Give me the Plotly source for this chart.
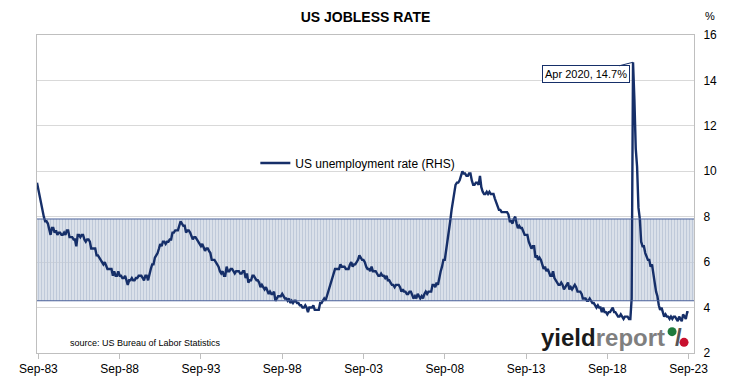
import pandas as pd
import plotly.graph_objects as go

# ---- data -----------------------------------------------------------------
first_month = "1983-08-01"
# US unemployment rate, monthly, % (Aug 1983 - Sep 2023)
unemployment_rate = [
    9.5, 9.2, 8.8, 8.5, 8.3,                                        # 1983 Aug-Dec
    8.0, 7.8, 7.8, 7.7, 7.4, 7.2, 7.5, 7.5, 7.3, 7.4, 7.2, 7.3,     # 1984
    7.3, 7.2, 7.2, 7.3, 7.2, 7.4, 7.4, 7.1, 7.1, 7.1, 7.0, 7.0,     # 1985
    6.7, 7.2, 7.2, 7.1, 7.2, 7.2, 7.0, 6.9, 7.0, 7.0, 6.9, 6.6,     # 1986
    6.6, 6.6, 6.6, 6.3, 6.3, 6.2, 6.1, 6.0, 5.9, 6.0, 5.8, 5.7,     # 1987
    5.7, 5.7, 5.7, 5.4, 5.6, 5.4, 5.4, 5.6, 5.4, 5.4, 5.3, 5.3,     # 1988
    5.4, 5.2, 5.0, 5.2, 5.2, 5.3, 5.2, 5.2, 5.3, 5.3, 5.4, 5.4,     # 1989
    5.4, 5.3, 5.2, 5.4, 5.4, 5.2, 5.5, 5.7, 5.9, 5.9, 6.2, 6.3,     # 1990
    6.4, 6.6, 6.8, 6.7, 6.9, 6.9, 6.8, 6.9, 6.9, 7.0, 7.0, 7.3,     # 1991
    7.3, 7.4, 7.4, 7.4, 7.6, 7.8, 7.7, 7.6, 7.6, 7.3, 7.4, 7.4,     # 1992
    7.3, 7.1, 7.0, 7.1, 7.1, 7.0, 6.9, 6.8, 6.7, 6.8, 6.6, 6.5,     # 1993
    6.6, 6.6, 6.5, 6.4, 6.1, 6.1, 6.1, 6.0, 5.9, 5.8, 5.6, 5.5,     # 1994
    5.6, 5.4, 5.4, 5.8, 5.6, 5.6, 5.7, 5.7, 5.6, 5.5, 5.6, 5.6,     # 1995
    5.6, 5.5, 5.5, 5.6, 5.6, 5.3, 5.5, 5.1, 5.2, 5.2, 5.4, 5.4,     # 1996
    5.3, 5.2, 5.2, 5.1, 4.9, 5.0, 4.9, 4.8, 4.9, 4.7, 4.6, 4.7,     # 1997
    4.6, 4.6, 4.7, 4.3, 4.4, 4.5, 4.5, 4.5, 4.6, 4.5, 4.4, 4.4,     # 1998
    4.3, 4.4, 4.2, 4.3, 4.2, 4.3, 4.3, 4.2, 4.2, 4.1, 4.1, 4.0,     # 1999
    4.0, 4.1, 4.0, 3.8, 4.0, 4.0, 4.0, 4.1, 3.9, 3.9, 3.9, 3.9,     # 2000
    4.2, 4.2, 4.3, 4.4, 4.3, 4.5, 4.6, 4.9, 5.0, 5.3, 5.5, 5.7,     # 2001
    5.7, 5.7, 5.7, 5.9, 5.8, 5.8, 5.8, 5.7, 5.7, 5.7, 5.9, 6.0,     # 2002
    5.8, 5.9, 5.9, 6.0, 6.1, 6.3, 6.2, 6.1, 6.1, 6.0, 5.8, 5.7,     # 2003
    5.7, 5.6, 5.8, 5.6, 5.6, 5.6, 5.5, 5.4, 5.4, 5.5, 5.4, 5.4,     # 2004
    5.3, 5.4, 5.2, 5.2, 5.1, 5.0, 5.0, 4.9, 5.0, 5.0, 5.0, 4.9,     # 2005
    4.7, 4.8, 4.7, 4.7, 4.6, 4.6, 4.7, 4.7, 4.5, 4.4, 4.5, 4.4,     # 2006
    4.6, 4.5, 4.4, 4.5, 4.4, 4.6, 4.7, 4.6, 4.7, 4.7, 4.7, 5.0,     # 2007
    5.0, 4.9, 5.1, 5.0, 5.4, 5.6, 5.8, 6.1, 6.1, 6.5, 6.8, 7.3,     # 2008
    7.8, 8.3, 8.7, 9.0, 9.4, 9.5, 9.5, 9.6, 9.8, 10.0, 9.9, 9.9,    # 2009
    9.8, 9.8, 9.9, 9.9, 9.6, 9.4, 9.4, 9.5, 9.5, 9.4, 9.8, 9.3,     # 2010
    9.1, 9.0, 9.0, 9.1, 9.0, 9.1, 9.0, 9.0, 9.0, 8.8, 8.6, 8.5,     # 2011
    8.3, 8.3, 8.2, 8.2, 8.2, 8.2, 8.2, 8.1, 7.8, 7.8, 7.7, 7.9,     # 2012
    8.0, 7.7, 7.5, 7.6, 7.5, 7.5, 7.3, 7.2, 7.2, 7.2, 6.9, 6.7,     # 2013
    6.6, 6.7, 6.7, 6.2, 6.3, 6.1, 6.2, 6.1, 5.9, 5.7, 5.8, 5.6,     # 2014
    5.7, 5.5, 5.4, 5.4, 5.6, 5.3, 5.2, 5.1, 5.0, 5.0, 5.1, 5.0,     # 2015
    4.8, 4.9, 5.0, 5.1, 4.8, 4.9, 4.8, 4.9, 5.0, 4.9, 4.7, 4.7,     # 2016
    4.7, 4.6, 4.4, 4.4, 4.4, 4.3, 4.3, 4.4, 4.3, 4.2, 4.2, 4.1,     # 2017
    4.0, 4.1, 4.0, 4.0, 3.8, 4.0, 3.8, 3.8, 3.7, 3.8, 3.8, 3.9,     # 2018
    4.0, 3.8, 3.8, 3.7, 3.6, 3.6, 3.7, 3.6, 3.5, 3.6, 3.6, 3.6,     # 2019
    3.5, 3.5, 4.4, 14.8, 13.2, 11.0, 10.2, 8.4, 7.9, 6.9, 6.7, 6.7, # 2020
    6.4, 6.2, 6.1, 6.1, 5.8, 5.9, 5.4, 5.1, 4.7, 4.5, 4.1, 3.9,     # 2021
    4.0, 3.8, 3.6, 3.7, 3.6, 3.6, 3.5, 3.6, 3.5, 3.6, 3.6, 3.5,     # 2022
    3.4, 3.6, 3.5, 3.4, 3.7, 3.6, 3.5, 3.8, 3.8,                    # 2023 Jan-Sep
]
band_low = 4.3
band_high = 7.9
peak_date = "2020-04-01"
peak_value = 14.8
peak_label = "Apr 2020, 14.7%"
axis_start = "1983-08-01"
axis_end = "2024-01-01"
first_tick = "1983-09-01"
y_range = [2, 16]

dates = pd.date_range(first_month, periods=len(unemployment_rate), freq="MS")

FONT = "Liberation Sans, Arial, sans-serif"
NAVY = "#162f69"

fig = go.Figure()

# shaded hatched band
fig.add_trace(go.Scatter(
    x=[axis_start, axis_end, axis_end, axis_start, axis_start],
    y=[band_low, band_low, band_high, band_high, band_low],
    mode="lines", fill="toself",
    line=dict(width=0, color="rgba(0,0,0,0)"),
    fillcolor="rgba(0,0,0,0)",
    fillpattern=dict(shape="|", fgcolor="#bfc9d9", fgopacity=1,
                     bgcolor="rgba(0,0,0,0)", size=3, solidity=0.72),
    hoverinfo="skip", showlegend=False,
))

fig.add_trace(go.Scatter(
    x=dates, y=unemployment_rate, mode="lines",
    name="US unemployment rate (RHS)",
    line=dict(color=NAVY, width=2.4),
))

for v in (band_low, band_high):
    fig.add_shape(type="line", xref="paper", x0=0, x1=1, yref="y", y0=v, y1=v,
                  line=dict(color="#4a619a", width=1))

fig.add_annotation(
    x=peak_date, y=peak_value, text=peak_label, showarrow=True,
    arrowhead=0, arrowwidth=1, arrowcolor=NAVY, ax=-47, ay=12,
    bgcolor="white", bordercolor=NAVY, borderwidth=1, borderpad=2,
    font=dict(family=FONT, size=11, color="#000"),
)

# "%" unit label above the right axis
fig.add_annotation(xref="paper", yref="paper", x=(712 - 37) / 659, y=(363 - 15) / 328,
                   text="%", showarrow=False, xanchor="center", yanchor="middle",
                   font=dict(family=FONT, size=11, color="#000"))

# source
fig.add_annotation(xref="paper", yref="paper", x=(68 - 37) / 659, y=(363 - 353) / 328,
                   text="source: US Bureau of Labor Statistics", showarrow=False,
                   xanchor="left", yanchor="middle",
                   font=dict(family=FONT, size=9, color="#000"))

# logo
fig.add_annotation(xref="paper", yref="paper", x=(541 - 37) / 659, y=(363 - 347) / 328,
                   text="<b>yield<span style='color:#7f7f7f'>report</span></b>",
                   showarrow=False, xanchor="left", yanchor="middle",
                   font=dict(family=FONT, size=24, color="#1a1a1a"))
fig.add_annotation(xref="paper", yref="paper", x=(680 - 37) / 659, y=(363 - 347) / 328,
                   text="<b>/</b>", showarrow=False, xanchor="center", yanchor="middle",
                   font=dict(family=FONT, size=24, color="#555555"))
for cx, cy, col in ((674, 341, "#1e7a3c"), (686, 352, "#c8102e")):
    fig.add_shape(type="circle", xref="paper", yref="paper",
                  xsizemode="pixel", ysizemode="pixel",
                  xanchor=(cx - 37) / 659, yanchor=(363 - cy) / 328,
                  x0=-4.5, x1=4.5, y0=-4.5, y1=4.5,
                  fillcolor=col, line=dict(width=0))

fig.update_layout(
    width=729, height=388,
    margin=dict(l=37, r=33, t=35, b=25),
    paper_bgcolor="white", plot_bgcolor="white",
    font=dict(family=FONT, size=12, color="#000"),
    title=dict(text="<b>US JOBLESS RATE</b>", x=0.5, xref="paper",
               y=1 - 17 / 388, yanchor="middle",
               font=dict(family=FONT, size=14, color="#000")),
    showlegend=True,
    legend=dict(x=(256 - 37) / 659, y=(363 - 167) / 328, xanchor="left", yanchor="middle",
                bgcolor="rgba(0,0,0,0)", font=dict(family=FONT, size=12, color="#000")),
    xaxis=dict(
        type="date", range=[axis_start, axis_end],
        tick0=first_tick, dtick="M60", tickformat="%b-%y",
        ticks="outside", ticklen=5, tickcolor="#bfbfbf",
        showline=True, linecolor="#bfbfbf", linewidth=1, mirror=True,
        showgrid=False, zeroline=False,
        tickfont=dict(family=FONT, size=12, color="#000"),
    ),
    yaxis=dict(
        side="right", range=y_range, dtick=2,
        showline=True, linecolor="#bfbfbf", linewidth=1, mirror=True,
        showgrid=True, gridcolor="#d9d9d9", gridwidth=1, zeroline=False,
        ticks="", ticklabelstandoff=6,
        tickfont=dict(family=FONT, size=12, color="#000"),
    ),
)

fig.write_html(
    "out.html",
    config={"displayModeBar": False},
    post_script="document.body.style.margin='0';document.body.style.overflow='hidden';",
)
